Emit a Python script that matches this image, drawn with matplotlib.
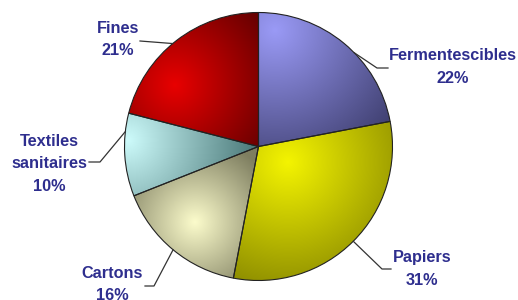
import numpy as np
import matplotlib.pyplot as plt
from matplotlib.colors import to_rgb

categories = ['Fermentescibles', 'Papiers', 'Cartons', 'Textiles\nsanitaires', 'Fines']
shares = [22, 31, 16, 10, 21]

# shading of each slice: light spot fading to a dark tone
light = ['#9a9af6', '#f4f400', '#fcfccc', '#cdfbfb', '#e80000']
dark = ['#3e3e6e', '#727200', '#7e7e60', '#4e7c7c', '#640000']
highlight = [(275, 270), (288, 138), (195, 78), (128, 160), (175, 215)]
spread = [150, 165, 85, 125, 110]

# label layout (figure pixels, y up)
label_xy = [(453, 233), (422, 31), (112, 15.5), (49, 136), (118, 260.5)]
leader_shift = [-6, 0, 0, -10, 2]
leader_elbow = [(377, 232), (382, 31), (154, 14), (100, 138), (140, 259)]
leader_end = [(388, 232), (391, 31), (145, 14), (89, 138), (140, 259)]

W, H = 518, 300
cx, cy, r = 258.5, 153.5, 134

fig = plt.figure(figsize=(W / 100, H / 100), dpi=100)
ax = fig.add_axes([0, 0, 1, 1])

wedges, _ = ax.pie(shares, startangle=90, counterclock=False, center=(cx, cy), radius=r,
                   colors=light, wedgeprops=dict(edgecolor='#222222', linewidth=0.8))

yy, xx = np.mgrid[0:H, 0:W] + 0.5
for w, lc, dc, (hx, hy), s in zip(wedges, light, dark, highlight, spread):
    t = np.clip(np.hypot(xx - hx, yy - hy) / s, 0, 1)[..., None]
    img = (1 - t) * np.array(to_rgb(lc)) + t * np.array(to_rgb(dc))
    im = ax.imshow(img, extent=(0, W, 0, H), origin='lower', zorder=0.5)
    im.set_clip_path(w)
    w.set_facecolor('none')

ax.set_xlim(0, W)
ax.set_ylim(0, H)
ax.set_aspect('equal')
ax.axis('off')

start = 90
for name, v, (lx, ly), sh, el, en in zip(categories, shares, label_xy, leader_shift,
                                         leader_elbow, leader_end):
    mid = start - v * 3.6 / 2
    start -= v * 3.6
    a = np.deg2rad(mid + sh)
    px, py = cx + r * np.cos(a), cy + r * np.sin(a)
    ax.plot([px, el[0], en[0]], [py, el[1], en[1]], color='#333333', lw=0.9, zorder=3)
    ax.text(lx, ly, f'{name}\n{v}%', ha='center', va='center', fontsize=11.7,
            fontweight='bold', family='Liberation Sans', color='#2e2e8e',
            linespacing=1.6, zorder=4)

fig.savefig('out.png', dpi=100)
